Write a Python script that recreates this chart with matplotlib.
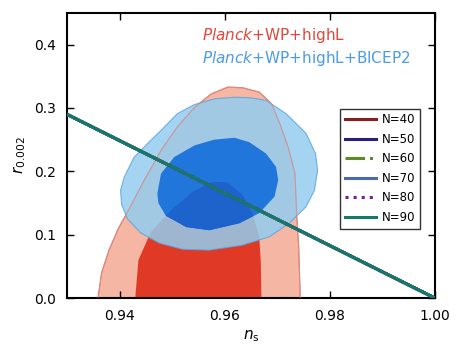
import numpy as np
import matplotlib
matplotlib.use('Agg')
import matplotlib.pyplot as plt

plt.rcParams['mathtext.fontset'] = 'dejavusans'

# contour outlines (n_s, r)
red_outer_ns = [0.9359, 0.9366, 0.9380, 0.9398, 0.9418, 0.9447, 0.9479, 0.9510, 0.9543, 0.9574,
                0.9606, 0.9634, 0.9666, 0.9689, 0.9705, 0.9721, 0.9734, 0.9737, 0.9741, 0.9744]
red_outer_r = [0.0, 0.040, 0.0756, 0.110, 0.140, 0.186, 0.233, 0.270, 0.301, 0.322,
               0.333, 0.332, 0.325, 0.307, 0.2756, 0.238, 0.197, 0.134, 0.081, 0.0]

red_inner_ns = [0.9430, 0.9436, 0.9460, 0.9500, 0.9540, 0.9575, 0.9605, 0.9634, 0.9653,
                0.9666, 0.9669, 0.9670]
red_inner_r = [0.0, 0.060, 0.105, 0.140, 0.168, 0.183, 0.183, 0.163, 0.134,
               0.097, 0.055, 0.0]

blue_outer_ns = [0.9402, 0.9409, 0.9428, 0.9453, 0.9479, 0.9510, 0.9543, 0.9581, 0.9619, 0.9650,
                 0.9679, 0.9717, 0.9755, 0.9773, 0.9777, 0.9771, 0.9755, 0.9723, 0.9685, 0.9634,
                 0.9571, 0.9520, 0.9476, 0.9440, 0.9415, 0.9404]
blue_outer_r = [0.170, 0.191, 0.2225, 0.2436, 0.2646, 0.291, 0.3055, 0.3145, 0.317, 0.316,
                0.312, 0.291, 0.260, 0.228, 0.2016, 0.170, 0.144, 0.118, 0.0966, 0.0835,
                0.0756, 0.077, 0.0866, 0.103, 0.125, 0.148]

blue_inner_ns = [0.9472, 0.9479, 0.9504, 0.9543, 0.9580, 0.9619, 0.9647, 0.9679, 0.9698,
                 0.9702, 0.9695, 0.9666, 0.9628, 0.9571, 0.9527, 0.9488, 0.9474]
blue_inner_r = [0.165, 0.1964, 0.2225, 0.241, 0.250, 0.253, 0.246, 0.228, 0.207,
                0.186, 0.160, 0.134, 0.118, 0.107, 0.112, 0.130, 0.150]

# model predictions (all N lie on top of each other here)
N_values = [40, 50, 60, 70, 80, 90]
line_ns = [0.93, 1.00]
line_r = [0.29, 0.0]
line_colors = ['#8b1c1c', '#2b1d78', '#5e8c24', '#4a6aae', '#7b1d8c', '#117a68']
line_styles = ['-', '-', '-.', '-', ':', '-']

fig = plt.figure(figsize=(4.65, 3.61), dpi=100)
ax = fig.add_axes([0.144, 0.1745, 0.791, 0.7895])

# Planck+WP+highL
ax.fill(red_outer_ns, red_outer_r, facecolor='#f5b6a3', edgecolor='#e07c70', linewidth=0.8, zorder=1)
red_in = ax.fill(red_inner_ns, red_inner_r, facecolor='#e03a26', edgecolor='none', zorder=2)[0]
# + BICEP2
ax.fill(blue_outer_ns, blue_outer_r, facecolor='#94cdf0', edgecolor='#5aa5e0', linewidth=0.8,
        alpha=0.85, zorder=3)
# red outline still shows through the light blue
ax.plot(red_outer_ns, red_outer_r, color='#d98b86', linewidth=0.8, alpha=0.8, zorder=3.2)
ax.fill(blue_inner_ns, blue_inner_r, facecolor='#2176db', edgecolor='none', zorder=4)
# darker where the two inner regions overlap
ov = ax.fill(blue_inner_ns, blue_inner_r, facecolor='#1e62cc', edgecolor='none', zorder=4.5)[0]
ov.set_clip_path(red_in)

for N, c, ls in zip(N_values, line_colors, line_styles):
    ax.plot(line_ns, line_r, color=c, linestyle=ls, linewidth=2.2, label='N=%d' % N, zorder=5)

ax.text(0.9557, 0.414, r'$\mathit{Planck}$+WP+highL', color='#e0473a', fontsize=11,
        va='center', ha='left')
ax.text(0.9557, 0.378, r'$\mathit{Planck}$+WP+highL+BICEP2', color='#4b9be6', fontsize=11,
        va='center', ha='left')

ax.set_xlim(0.93, 1.00)
ax.set_ylim(0.0, 0.45)
ax.set_xticks([0.94, 0.96, 0.98, 1.00])
ax.set_yticks([0.0, 0.1, 0.2, 0.3, 0.4])
ax.set_xticklabels(['0.94', '0.96', '0.98', '1.00'])
ax.tick_params(direction='in', top=True, right=True, length=5, width=1, labelsize=10, pad=8)
for sp in ax.spines.values():
    sp.set_linewidth(1.5)

ax.set_xlabel(r'$n_{\rm s}$', fontsize=11)
ax.set_ylabel(r'$r_{0.002}$', fontsize=11)

leg = ax.legend(loc='center right', bbox_to_anchor=(0.975, 0.454), fontsize=8.5, frameon=True,
                fancybox=False, handlelength=2.6, labelspacing=0.55, borderpad=0.4,
                handletextpad=0.5)
leg.get_frame().set_edgecolor('black')
leg.get_frame().set_linewidth(1.0)
leg.set_zorder(10)

fig.savefig('out.png', dpi=100)
